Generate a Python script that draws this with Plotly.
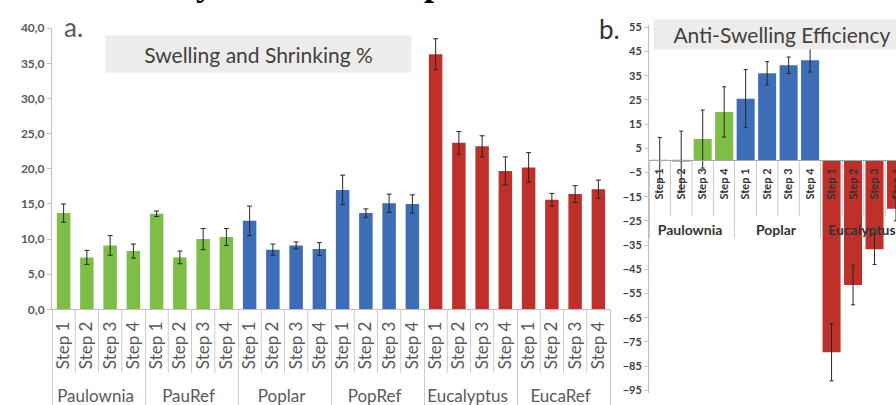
import plotly.graph_objects as go

# ---------------- data ----------------
steps = ["Step 1", "Step 2", "Step 3", "Step 4"]

# a. Swelling and Shrinking %
groups_a = ["Paulownia", "PauRef", "Poplar", "PopRef", "Eucalyptus", "EucaRef"]
paulownia = [13.7, 7.4, 9.1, 8.3]
paulownia_err = [1.3, 1.0, 1.4, 1.0]
pauref = [13.6, 7.4, 10.0, 10.3]
pauref_err = [0.4, 0.9, 1.5, 1.2]
poplar = [12.6, 8.5, 9.1, 8.6]
poplar_err = [2.1, 0.8, 0.5, 0.9]
popref = [17.0, 13.7, 15.1, 15.0]
popref_err = [2.1, 0.6, 1.3, 1.3]
eucalyptus = [36.3, 23.7, 23.2, 19.7]
eucalyptus_err = [2.2, 1.6, 1.5, 2.0]
eucaref = [20.2, 15.6, 16.4, 17.1]
eucaref_err = [2.1, 0.9, 1.2, 1.3]

# b. Anti-Swelling Efficiency
groups_b = ["Paulownia", "Poplar", "Eucalyptus"]
ase_paulownia = [0.2, -0.4, 8.8, 20.0]
ase_paulownia_err = [9.3, 12.5, 12.0, 10.4]
ase_poplar = [25.5, 36.0, 39.3, 41.4]
ase_poplar_err = [12.0, 4.8, 3.4, 4.9]
ase_eucalyptus = [-79.3, -51.5, -36.7, -20.0]
ase_eucalyptus_err = [11.8, 8.2, 6.3, 5.0]

# ---------------- styling ----------------
W, H = 896, 405
GREEN, BLUE, RED = "#7dbf46", "#3d6db6", "#c0302a"
species_color = {"Pau": GREEN, "Pop": BLUE, "Euc": RED}
FONT = "Lato"
NB = "\u00a0"

vals_a = [paulownia, pauref, poplar, popref, eucalyptus, eucaref]
errs_a = [paulownia_err, pauref_err, poplar_err, popref_err, eucalyptus_err, eucaref_err]
vals_b = [ase_paulownia, ase_poplar, ase_eucalyptus]
errs_b = [ase_paulownia_err, ase_poplar_err, ase_eucalyptus_err]


def flatten(groups, vals, errs, group_fmt="{}", step_fmt="{}"):
    g, s, v, e, c = [], [], [], [], []
    for grp, vv, ee in zip(groups, vals, errs):
        for st, val, er in zip(steps, vv, ee):
            g.append(group_fmt.format(grp))
            s.append(step_fmt.format(st))
            v.append(val)
            e.append(er)
            c.append(species_color[grp[:3]])
    return g, s, v, e, c


ga, sa, va, ea, ca = flatten(groups_a, vals_a, errs_a, step_fmt="{}" + NB)
gb, sb, vb, eb, cb = flatten(groups_b, vals_b, errs_b,
                             group_fmt="<span style='font-size:14px'>{}</span>",
                             step_fmt=NB * 5 + "{}" + NB)

# pixel geometry -> domains
xa_dom = [52 / W, 610 / W]
ya_dom = [(H - 313) / H, (H - 21) / H]
xb_dom = [649 / W, 1.0]
yb_rng = [-96, 56]
yb_dom = [(H - 399.5) / H, (H - 17.5) / H]
zero_b = yb_dom[0] + (0 - yb_rng[0]) / (yb_rng[1] - yb_rng[0]) * (yb_dom[1] - yb_dom[0])

fig = go.Figure()
fig.add_trace(go.Bar(
    x=[ga, sa], y=va, marker=dict(color=ca, line=dict(width=0)), width=0.58,
    error_y=dict(type="data", array=ea, color="#262626", thickness=1, width=2.5),
    xaxis="x", yaxis="y", hoverinfo="skip"))
fig.add_trace(go.Bar(
    x=[gb, sb], y=vb, marker=dict(color=cb, line=dict(width=0)), width=0.84,
    error_y=dict(type="data", array=eb, color="#262626", thickness=1, width=2),
    xaxis="x2", yaxis="y2", hoverinfo="skip"))

fig.update_layout(
    width=W, height=H, margin=dict(l=0, r=0, t=0, b=0),
    paper_bgcolor="white", plot_bgcolor="rgba(0,0,0,0)",
    separators=",.", showlegend=False, barmode="overlay",
    font=dict(family=FONT, color="#595959"),
    xaxis=dict(domain=xa_dom, anchor="y", type="multicategory",
               range=[-0.5, len(sa) - 0.5], tickangle=-90,
               showline=True, linecolor="#bfbfbf", linewidth=1, ticks="",
               showdividers=True, dividercolor="#cccccc", dividerwidth=1,
               tickfont=dict(family=FONT, size=17, color="#595959"),
               showgrid=False, zeroline=False, fixedrange=True),
    yaxis=dict(domain=ya_dom, anchor="x", range=[0, 40], dtick=5, tick0=0,
               tickformat=".1f", showline=True, linecolor="#bfbfbf",
               ticks="outside", ticklen=4, tickcolor="#bfbfbf",
               showgrid=False, zeroline=False,
               tickfont=dict(family=FONT, size=12, color="#595959", weight="bold")),
    xaxis2=dict(domain=xb_dom, anchor="free", position=zero_b, type="multicategory",
                range=[-0.5, 11.0], tickangle=-90,
                showline=True, linecolor="#a6a6a6", linewidth=1, ticks="",
                showdividers=True, dividercolor="#c8c8c8", dividerwidth=1,
                tickfont=dict(family=FONT, size=11, color="#333333", weight="bold"),
                showgrid=False, zeroline=False),
    yaxis2=dict(domain=yb_dom, anchor="x2", range=yb_rng, dtick=10, tick0=5,
                showline=True, linecolor="#bfbfbf", ticks="outside", ticklen=4,
                tickcolor="#bfbfbf", showgrid=False, zeroline=False,
                tickfont=dict(family=FONT, size=11, color="#404040", weight="bold")),
)

# step separators (between steps inside each group)
shapes = []
na = len(sa)
for i in range(1, na):
    if i % 4:
        shapes.append(dict(type="line", xref="x domain", yref="y domain",
                           x0=i / na, x1=i / na, y0=0, y1=-66 / (313 - 21),
                           line=dict(color="#cccccc", width=1)))
nb_span = 11.5  # visible category units on panel b
yz = (0 - yb_rng[0]) / (yb_rng[1] - yb_rng[0])
for i in range(1, len(sb)):
    if i % 4:
        xf = i / nb_span
        if xf < 1:
            shapes.append(dict(type="line", xref="x2 domain", yref="y2 domain",
                               x0=xf, x1=xf, y0=yz, y1=yz - 58 / 382,
                               layer="below", line=dict(color="#c8c8c8", width=1)))
fig.update_layout(shapes=shapes)

# annotations: panel letters, title boxes, cut-off caption text
ann = [
    dict(text="a.", x=62 / W, y=(H - 20) / H, xanchor="left", yanchor="middle",
         font=dict(family=FONT, size=26, color="#595959")),
    dict(text="b.", x=597 / W, y=(H - 22) / H, xanchor="left", yanchor="middle",
         font=dict(family=FONT, size=26, color="#333333")),
    dict(text="Swelling and Shrinking %", x=258.5 / W, y=(H - 48) / H,
         xanchor="center", yanchor="middle", width=303, height=34,
         bgcolor="#eeecea", borderpad=1,
         font=dict(family=FONT, size=21, color="#404040")),
    dict(text="Anti-Swelling Efficiency", x=782 / W, y=(H - 27.5) / H,
         xanchor="center", yanchor="middle", width=254, height=27,
         bgcolor="#eeecea", borderpad=1,
         font=dict(family=FONT, size=21, color="#404040")),
    dict(text="y", x=205 / W, y=1, xanchor="center", yanchor="bottom", yshift=3,
         font=dict(family="Liberation Serif", size=36, color="black", weight="bold")),
    dict(text="p", x=434 / W, y=1, xanchor="center", yanchor="bottom", yshift=3,
         font=dict(family="Liberation Serif", size=36, color="black", weight="bold")),
]
for a in ann:
    a.update(xref="paper", yref="paper", showarrow=False)
fig.update_layout(annotations=ann)

fig.write_html("out.html")
